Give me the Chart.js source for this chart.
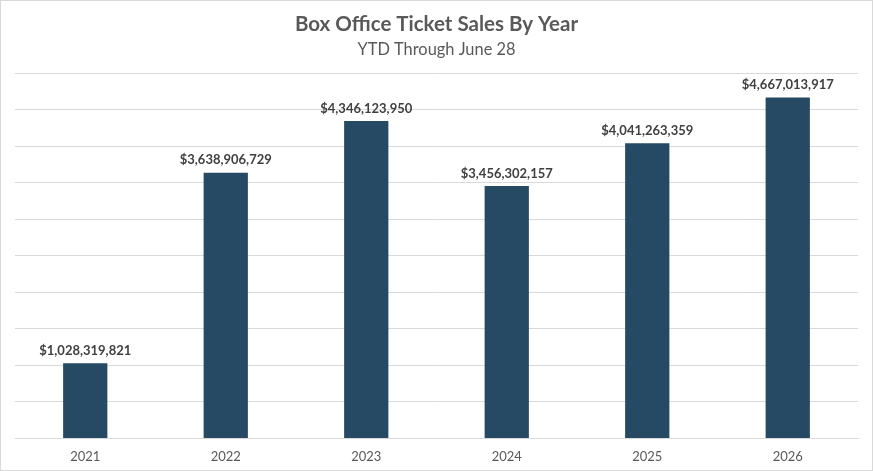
<!DOCTYPE html>
<html>
<head>
<meta charset="utf-8">
<script src="https://cdn.jsdelivr.net/npm/chart.js@4.4.1/dist/chart.umd.min.js"></script>
<style>
html,body{margin:0;padding:0;background:#fff;}
#wrap{position:relative;width:873px;height:471px;box-sizing:border-box;border:1px solid #d9d9d9;}
</style>
</head>
<body>
<div id="wrap"><canvas id="c"></canvas></div>
<script>
const categories = ["2021","2022","2023","2024","2025","2026"];
const sales = [1028319821, 3638906729, 4346123950, 3456302157, 4041263359, 4667013917];
const titleText = "Box Office Ticket Sales By Year";
const subtitleText = "YTD Through June 28";

const FONT = "Lato, 'Open Sans', sans-serif";

const labelPlugin = {
  id: 'valueLabels',
  afterDatasetsDraw(chart) {
    const ctx = chart.ctx;
    const meta = chart.getDatasetMeta(0);
    ctx.save();
    ctx.font = "bold 13px " + FONT;
    ctx.fillStyle = "#404040";
    ctx.textAlign = "center";
    ctx.textBaseline = "bottom";
    meta.data.forEach((el, i) => {
      const v = chart.data.datasets[0].data[i];
      ctx.fillText("$" + v.toLocaleString("en-US"), el.x, el.y - 6);
    });
    ctx.restore();
  }
};

new Chart(document.getElementById('c'), {
  type: 'bar',
  data: {
    labels: categories,
    datasets: [{
      data: sales,
      backgroundColor: '#264a63',
      borderColor: '#264a63',
      borderWidth: 0,
      barPercentage: 0.315,
      categoryPercentage: 1.0
    }]
  },
  options: {
    responsive: true,
    maintainAspectRatio: false,
    animation: false,
    layout: { padding: { left: 14, right: 14, top: 5, bottom: 2 } },
    plugins: {
      legend: { display: false },
      tooltip: { enabled: false },
      title: {
        display: true, text: titleText, color: '#595959',
        font: { family: FONT, size: 20.5, weight: 'bold' },
        padding: { top: 6, bottom: 3 }
      },
      subtitle: {
        display: true, text: subtitleText, color: '#595959',
        font: { family: FONT, size: 16.4 },
        padding: { top: 0, bottom: 14 }
      }
    },
    scales: {
      x: {
        grid: { display: false },
        border: { display: true, color: '#d9d9d9', width: 1 },
        ticks: { color: '#595959', font: { family: FONT, size: 13 }, padding: 3 }
      },
      y: {
        min: 0, max: 5000000000,
        ticks: { display: false, stepSize: 500000000 },
        grid: { color: '#d9d9d9', lineWidth: 1, drawTicks: false },
        border: { display: false }
      }
    }
  },
  plugins: [labelPlugin]
});
</script>
</body>
</html>
